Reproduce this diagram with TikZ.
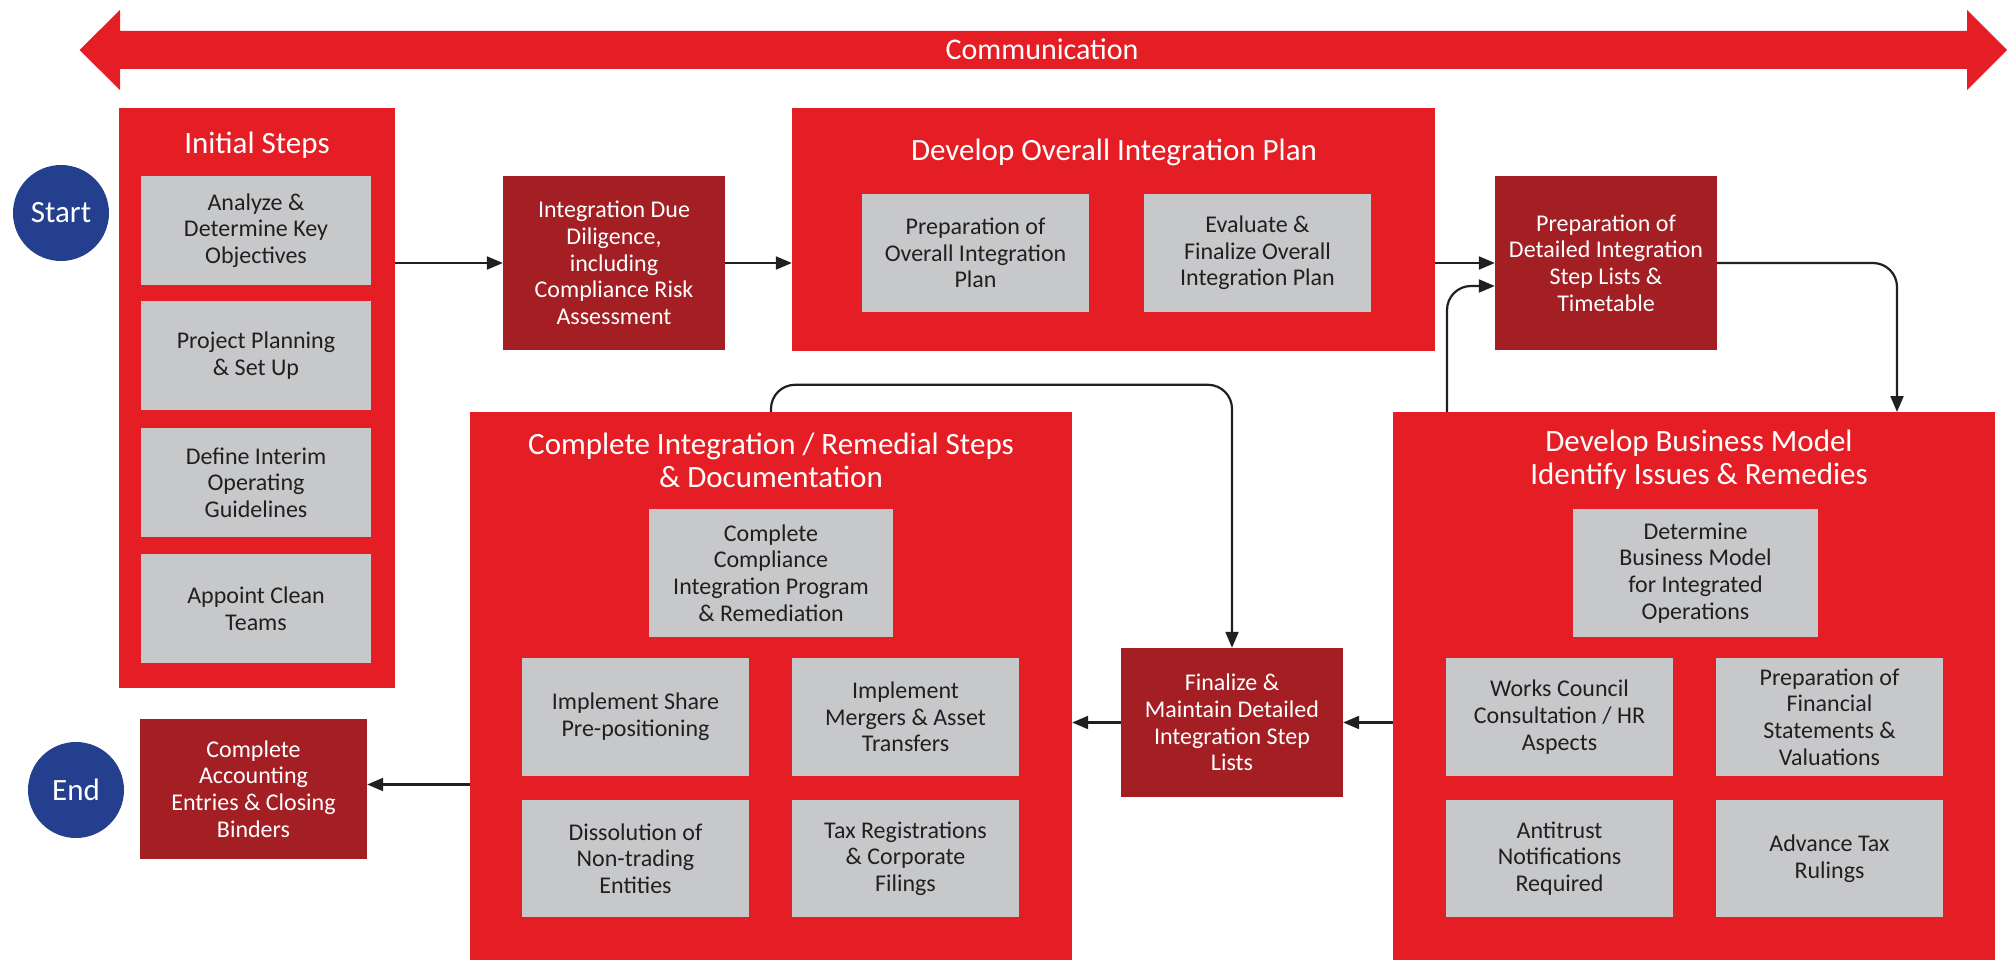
\documentclass[tikz,border=0pt]{standalone}
\usepackage{fontspec}
\setmainfont{Carlito}
\usetikzlibrary{arrows.meta}

\definecolor{brandred}{RGB}{228,30,36}
\definecolor{deepred}{RGB}{163,31,36}
\definecolor{stepgrey}{RGB}{199,200,202}
\definecolor{navy}{RGB}{37,63,143}
\definecolor{ink}{RGB}{35,31,32}

\tikzset{
  container/.style={fill=brandred, draw=none, inner sep=0pt},
  title/.style={text=white, align=center, font=\fontsize{31}{33}\selectfont, inner sep=0pt},
  greybox/.style={fill=stepgrey, draw=none, text=ink, align=center,
    font=\fontsize{24}{26.7}\selectfont, inner sep=0pt},
  redbox/.style={fill=deepred, draw=none, text=white, align=center,
    font=\fontsize{24}{26.7}\selectfont, inner sep=0pt},
  terminal/.style={circle, fill=navy, draw=none, text=white,
    font=\fontsize{31}{33}\selectfont, minimum size=96pt, inner sep=0pt},
  conn/.style={draw=ink, line width=2.2pt, rounded corners=24pt,
    -{Triangle[length=16pt,width=13pt]}},
  sz/.style 2 args={minimum width=#1pt, minimum height=#2pt},
}

\begin{document}
\begin{tikzpicture}[x=1pt,y=-1pt]
\useasboundingbox (0,0) rectangle (2010,960);

% communication band across the top
\fill[brandred] (79.5,50) -- (120,10) -- (120,31) -- (1967,31) -- (1967,10)
  -- (2007,50) -- (1967,90) -- (1967,69) -- (120,69) -- (120,90) -- cycle;
\node[text=white, font=\fontsize{30}{32}\selectfont, inner sep=0pt] (comm) at (1042,49) {Communication};

% start and end
\node[terminal] (start) at (61,213) {Start};
\node[terminal] (end) at (76,790) {End};

% initial steps
\node[container, sz={276}{580}] (init) at (257,398) {};
\node[title] (initT) at (257,145) {Initial Steps};
\node[greybox, sz={230}{109}] (i1) at (256,230.5) {Analyze \&\\Determine Key\\Objectives};
\node[greybox, sz={230}{109}] (i2) at (256,355.5) {Project Planning\\\& Set Up};
\node[greybox, sz={230}{109}] (i3) at (256,482.5) {Define Interim\\Operating\\Guidelines};
\node[greybox, sz={230}{109}] (i4) at (256,608.5) {Appoint Clean\\Teams};

% due diligence
\node[redbox, sz={222}{174}] (idd) at (614,263) {Integration Due\\Diligence,\\including\\Compliance Risk\\Assessment};

% overall plan
\node[container, sz={643}{243}] (dev) at (1113.5,229.5) {};
\node[title] (devT) at (1114,152) {Develop Overall Integration Plan};
\node[greybox, sz={227}{118}] (d1) at (975.5,253) {Preparation of\\Overall Integration\\Plan};
\node[greybox, sz={227}{118}] (d2) at (1257.5,253) {Evaluate \&\\Finalize Overall\\Integration Plan};

% detailed step lists
\node[redbox, sz={222}{174}] (pd) at (1606,263) {Preparation of\\Detailed Integration\\Step Lists \&\\Timetable};

% complete integration
\node[container, sz={602}{548}] (ci) at (771,686) {};
\node[title] (ciT) at (771,460.5) {Complete Integration / Remedial Steps\\\& Documentation};
\node[greybox, sz={244}{128}] (c0) at (771,573) {Complete\\Compliance\\Integration Program\\\& Remediation};
\node[greybox, sz={227}{118}] (c1) at (635.5,717) {Implement Share\\Pre-positioning};
\node[greybox, sz={227}{118}] (c2) at (905.5,717) {Implement\\Mergers \& Asset\\Transfers};
\node[greybox, sz={227}{117}] (c3) at (635.5,858.5) {Dissolution of\\Non-trading\\Entities};
\node[greybox, sz={227}{117}] (c4) at (905.5,858.5) {Tax Registrations\\\& Corporate\\Filings};

% finalize step lists
\node[redbox, sz={222}{149}] (fin) at (1232,722.5) {Finalize \&\\Maintain Detailed\\Integration Step\\Lists};

% business model
\node[container, sz={602}{548}] (bm) at (1694,686) {};
\node[title] (bmT) at (1699,459.5) {Develop Business Model\\Identify Issues \& Remedies};
\node[greybox, sz={245}{128}] (b0) at (1695.5,573) {Determine\\Business Model\\for Integrated\\Operations};
\node[greybox, sz={227}{118}] (b1) at (1559.5,717) {Works Council\\Consultation / HR\\Aspects};
\node[greybox, sz={227}{118}] (b2) at (1829.5,717) {Preparation of\\Financial\\Statements \&\\Valuations};
\node[greybox, sz={227}{117}] (b3) at (1559.5,858.5) {Antitrust\\Notifications\\Required};
\node[greybox, sz={227}{117}] (b4) at (1829.5,858.5) {Advance Tax\\Rulings};

% closing
\node[redbox, sz={227}{140}] (ca) at (253.5,789) {Complete\\Accounting\\Entries \& Closing\\Binders};

% connector anchor points on box edges
\coordinate (bmIn) at (1897,412);
\coordinate (bmOut) at (1447,412);
\coordinate (pdIn) at ([yshift=-23pt]pd.west);
\coordinate (caIn) at ([yshift=4.5pt]ca.east);

% connectors
\draw[conn] (idd.west -| init.east) -- (idd.west);
\draw[conn] (idd.east) -- (idd.east -| dev.west);
\draw[conn] (pd.west -| dev.east) -- (pd.west);
\draw[conn] (pd.east) -| (bmIn);
\draw[conn] (bmOut) |- (pdIn);
\draw[conn] (ci.north) -- ++(0,-27) -| (fin.north);
\draw[conn] (fin.east -| bm.west) -- (fin.east);
\draw[conn] (fin.west) -- (fin.west -| ci.east);
\draw[conn] (caIn -| ci.west) -- (caIn);
\end{tikzpicture}
\end{document}
